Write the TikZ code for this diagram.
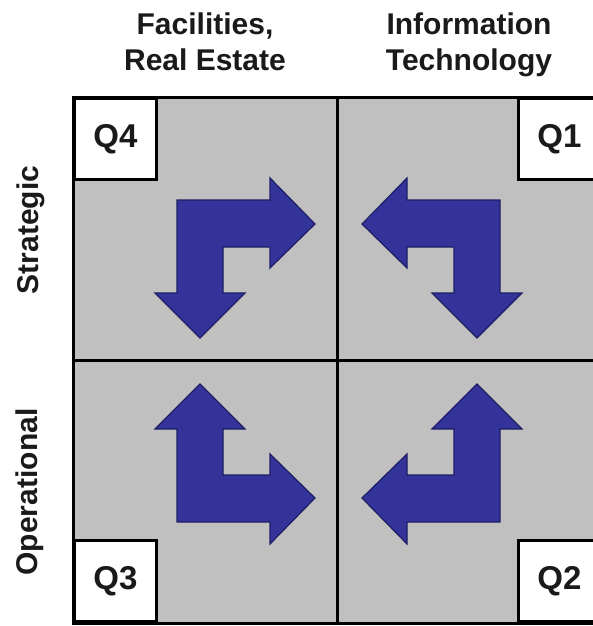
\documentclass[tikz,border=0pt]{standalone}
\usepackage{fontspec}
\setmainfont{Liberation Sans}
\definecolor{cellgray}{HTML}{C0C0C0}
\definecolor{arrowblue}{HTML}{33339A}
\definecolor{arrowedge}{HTML}{1E1E66}
\definecolor{txt}{HTML}{1A1A1A}
\begin{document}
\begin{tikzpicture}[x=1pt,y=-1pt,
  gridline/.style={line width=3pt, draw=black},
  qbox/.style={draw=black, line width=3pt, fill=white, minimum width=82pt, minimum height=81pt, inner sep=0pt, font=\fontsize{33}{36}\selectfont\bfseries, text=txt},
  headlabel/.style={font=\fontsize{30}{36}\selectfont\bfseries, text=txt, align=center, inner sep=0pt, anchor=north},
  sidelabel/.style={font=\fontsize{30}{36}\selectfont\bfseries, text=txt, rotate=90, inner sep=0pt, anchor=base},
  bluearrow/.style={fill=arrowblue, draw=arrowedge, line width=1.2pt, line join=miter}]
\useasboundingbox (0,0) rectangle (593,626);
\clip (0,0) rectangle (593,626);
\fill[white] (0,0) rectangle (593,626);
% quadrants
\fill[cellgray] (73,97) rectangle (602,623);
\draw[gridline] (337,97) -- (337,623);
\draw[gridline] (73,360) -- (602,360);
\draw[gridline] (73,97) rectangle (602,623);
% headers
\node[headlabel] (hfac) at (205,13) {Facilities,\\Real Estate};
\node[headlabel] (hit) at (469,13) {Information\\Technology};
\node[sidelabel] (sstrat) at (38,230) {Strategic};
\node[sidelabel] (soper) at (37,492) {Operational};
% quadrant labels
\node[qbox, anchor=north west] (q4) at (73,97) {Q4};
\node[qbox, anchor=north east] (q1) at (602,97) {Q1};
\node[qbox, anchor=south west] (q3) at (73,623) {Q3};
\node[qbox, anchor=south east] (q2) at (602,623) {Q2};
% arrows
\draw[bluearrow] (177,200) -- (270,200) -- (270,178) -- (315,224) -- (270,268) -- (270,247) -- (223,247) -- (223,293) -- (245,293) -- (200,338) -- (155,293) -- (177,293) -- cycle;
\draw[bluearrow] (500,200) -- (407,200) -- (407,178) -- (362,224) -- (407,268) -- (407,247) -- (454,247) -- (454,293) -- (432,293) -- (477,338) -- (522,293) -- (500,293) -- cycle;
\draw[bluearrow] (177,522) -- (270,522) -- (270,544) -- (315,498) -- (270,454) -- (270,475) -- (223,475) -- (223,429) -- (245,429) -- (200,384) -- (155,429) -- (177,429) -- cycle;
\draw[bluearrow] (500,522) -- (407,522) -- (407,544) -- (362,498) -- (407,454) -- (407,475) -- (454,475) -- (454,429) -- (432,429) -- (477,384) -- (522,429) -- (500,429) -- cycle;
\end{tikzpicture}
\end{document}
